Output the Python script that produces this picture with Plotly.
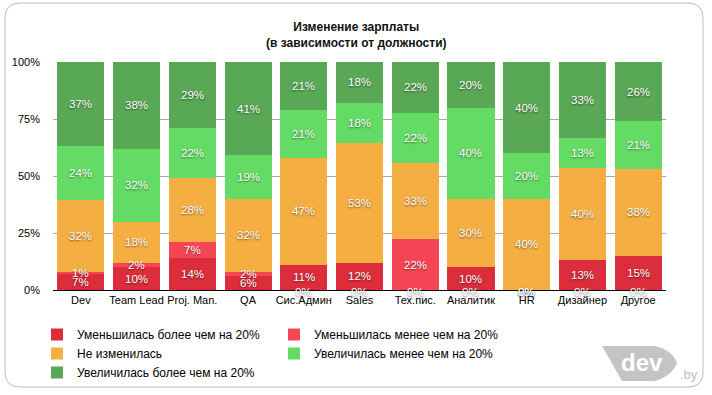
import plotly.graph_objects as go

categories = ["Dev", "Team Lead", "Proj. Man.", "QA", "Сис.Админ", "Sales",
              "Тех.пис.", "Аналитик", "HR", "Дизайнер", "Другое"]

series_names = [
    "Уменьшилась более чем на 20%",
    "Уменьшилась менее чем на 20%",
    "Не изменилась",
    "Увеличилась менее чем на 20%",
    "Увеличилась более чем на 20%",
]

decreased_more = [7, 10, 14, 6, 11, 12, 0, 10, 0, 13, 15]
decreased_less = [1, 2, 7, 2, 0, 0, 22, 0, 0, 0, 0]
unchanged = [32, 18, 28, 32, 47, 53, 33, 30, 40, 40, 38]
increased_less = [24, 32, 22, 19, 21, 18, 22, 40, 20, 13, 21]
increased_more = [37, 38, 29, 41, 21, 18, 22, 20, 40, 33, 26]

series_values = [decreased_more, decreased_less, unchanged, increased_less, increased_more]
colors = ["#DC2D3C", "#F54656", "#F5AE42", "#64DB64", "#58A855"]

y_ticks = [0, 25, 50, 75, 100]
y_tick_labels = ["0%", "25%", "50%", "75%", "100%"]

W, H = 712, 395
ML, MR, MT, MB = 53, 46, 62, 105
PW, PH = W - ML - MR, H - MT - MB


def cx(p):
    return p / W


def cy(p):
    return 1 - p / H


def px_x(p):
    return (p - ML) / PW


def px_y(p):
    return (H - MB - p) / PH


FONT = "Liberation Sans, Arial, Helvetica, sans-serif"

fig = go.Figure()
for name, vals, col in zip(series_names, series_values, colors):
    fig.add_trace(go.Bar(
        x=categories, y=vals, name=name,
        marker=dict(color=col, line=dict(width=0)),
        hoverinfo="skip",
    ))

# value labels
totals = [sum(s[j] for s in series_values) for j in range(len(categories))]
annotations = []
for j, cat in enumerate(categories):
    cum = 0
    for vals in series_values:
        v = vals[j]
        if v > 0:
            yv = (cum + v / 2) / totals[j] * 100
            shift = 0
        else:
            yv = 0
            shift = -2
        annotations.append(dict(
            x=cat, y=yv, xref="x", yref="y", text=f"{v}%", showarrow=False,
            yshift=shift,
            font=dict(family=FONT, size=11.5, color="white",
                      shadow="0px 1px 2px rgba(0,0,0,0.55)"),
        ))
        cum += v

# title
annotations.append(dict(
    x=0.5, y=px_y(35), xref="paper", yref="paper", showarrow=False,
    xshift=(W / 2) - (ML + PW / 2),
    text="<b>Изменение зарплаты</b><br><b>(в зависимости от должности)</b>",
    font=dict(family=FONT, size=12, color="#111"),
    xanchor="center", yanchor="middle",
))

# logo text
annotations.append(dict(
    x=px_x(642), y=px_y(362), xref="paper", yref="paper", showarrow=False,
    text="<b>dev</b>", font=dict(family=FONT, size=24, color="white"),
    xanchor="center", yanchor="middle",
))
annotations.append(dict(
    x=px_x(689), y=px_y(374), xref="paper", yref="paper", showarrow=False,
    text=".by", font=dict(family=FONT, size=13, color="#bdbdbd"),
    xanchor="center", yanchor="middle",
))

shapes = []
x0, x1, y0, y1, r = px_x(5), px_x(703), px_y(3), px_y(387), 15
rx, ry = r / PW, r / PH
path = (f"M {x0+rx},{y0} L {x1-rx},{y0} Q {x1},{y0} {x1},{y0-ry} "
        f"L {x1},{y1+ry} Q {x1},{y1} {x1-rx},{y1} L {x0+rx},{y1} "
        f"Q {x0},{y1} {x0},{y1+ry} L {x0},{y0-ry} Q {x0},{y0} {x0+rx},{y0} Z")
shapes.append(dict(type="path", path=path, xref="paper", yref="paper",
                   line=dict(color="#bbbbbb", width=1), fillcolor="rgba(0,0,0,0)",
                   layer="below"))
lx = [px_x(v) for v in (602, 655, 672, 677, 672, 655, 622)]
ly = [px_y(v) for v in (346, 346, 350, 363, 376, 381, 381)]
lpath = (f"M {lx[0]},{ly[0]} L {lx[1]},{ly[1]} Q {lx[2]},{ly[2]} {lx[3]},{ly[3]} "
         f"Q {lx[4]},{ly[4]} {lx[5]},{ly[5]} L {lx[6]},{ly[6]} Z")
shapes.append(dict(type="path", path=lpath, xref="paper", yref="paper",
                   line=dict(width=0), fillcolor="#c4c4c4", layer="below"))

fig.update_layout(
    template="none",
    width=W, height=H,
    margin=dict(l=ML, r=MR, t=MT, b=MB, pad=0, autoexpand=False),
    paper_bgcolor="white", plot_bgcolor="white",
    barmode="stack", barnorm="percent", bargap=0.155,
    font=dict(family=FONT, size=11, color="black"),
    showlegend=True,
    legend=dict(
        orientation="h", x=cx(37), y=cy(320), xanchor="left", yanchor="top",
        xref="container", yref="container", traceorder="normal",
        entrywidth=192, entrywidthmode="pixels",
        font=dict(family=FONT, size=12, color="black"),
        bgcolor="rgba(0,0,0,0)", itemclick=False, itemdoubleclick=False,
    ),
    xaxis=dict(
        showline=True, linecolor="black", linewidth=1, ticks="",
        tickfont=dict(size=11, color="black"), showgrid=False, fixedrange=True,
        automargin=False, zeroline=False,
    ),
    yaxis=dict(
        range=[0, 100], tickvals=y_ticks, ticktext=y_tick_labels,
        showgrid=True, gridcolor="#aaaaaa", gridwidth=1, zeroline=False,
        showline=False, ticks="", ticklabelstandoff=12,
        tickfont=dict(size=11, color="black"), fixedrange=True, automargin=False,
    ),
    annotations=annotations,
    shapes=shapes,
)

fig.write_html("out.html", config={"displayModeBar": False},
               post_script="document.body.style.margin='0';")
